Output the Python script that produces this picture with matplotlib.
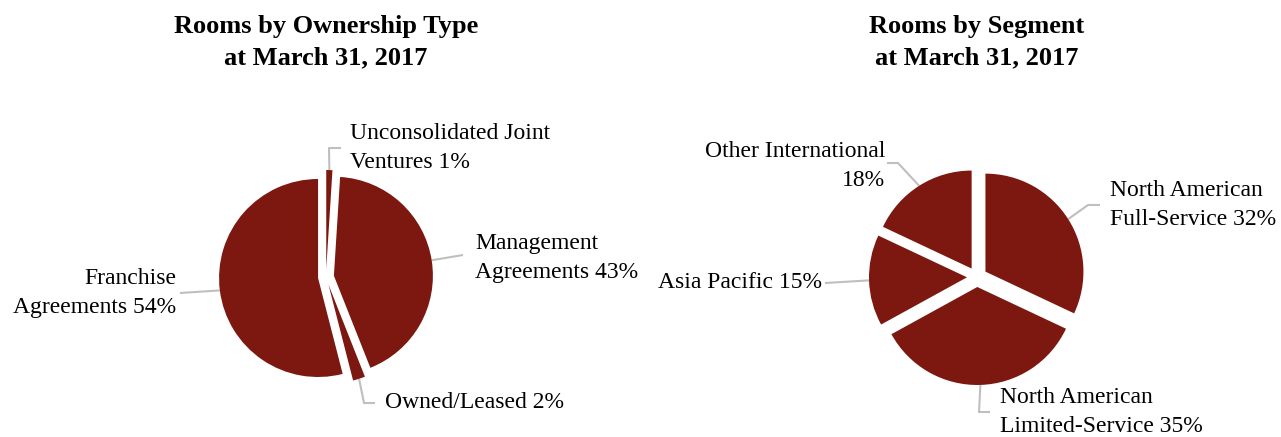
import numpy as np
import matplotlib
matplotlib.use('Agg')
import matplotlib.pyplot as plt

W, H = 1281, 437
RED = '#7C1810'
GREY = '#BFBFBF'
plt.rcParams['font.family'] = ['Liberation Serif', 'DejaVu Serif']

# Rooms by ownership type (clockwise from 12 o'clock)
own_labels = ['Unconsolidated Joint\nVentures 1%', 'Management\nAgreements 43%',
              'Owned/Leased 2%', 'Franchise\nAgreements 54%']
own_values = [1, 43, 2, 54]

# Rooms by segment (clockwise from 12 o'clock)
seg_labels = ['North American\nFull-Service 32%', 'North American\nLimited-Service 35%',
              'Asia Pacific 15%', 'Other International\n18%']
seg_values = [32, 35, 15, 18]

fig = plt.figure(figsize=(W / 100, H / 100), dpi=100)
ax = fig.add_axes([0, 0, 1, 1])


def py(y):
    # pixel row (from top) -> data y
    return H - y


def anchor(w):
    mid = np.deg2rad((w.theta1 + w.theta2) / 2)
    return w.center[0] + w.r * np.cos(mid), w.center[1] + w.r * np.sin(mid)


def draw_pie(values, labels, cx, cy, r, expl, title, layout):
    wedges, _ = ax.pie(values, explode=[expl] * len(values), radius=r,
                       center=(cx, py(cy)), startangle=90, counterclock=False,
                       colors=[RED] * len(values), wedgeprops=dict(linewidth=0))
    ax.text(cx, py(42), title, ha='center', va='center', fontsize=19,
            fontweight='bold', linespacing=1.43)
    for w, lab, (elbows, tx, ty, ha) in zip(wedges, labels, layout):
        ax0, ay0 = anchor(w)
        xs = [ax0] + [e[0] for e in elbows]
        ys = [ay0] + [py(e[1]) for e in elbows]
        ax.plot(xs, ys, color=GREY, lw=1.5, solid_capstyle='butt', zorder=0)
        ax.text(tx, py(ty), lab, ha=ha, va='center', fontsize=17,
                linespacing=1.56, multialignment=ha)


own_layout = [
    ([(329, 148), (341, 148)], 350, 148, 'left'),
    ([(463, 255)], 475, 258, 'left'),
    ([(364, 403), (375, 403)], 385, 403, 'left'),
    ([(180, 293)], 176, 293, 'right'),
]
seg_layout = [
    ([(1088, 205), (1100, 205)], 1110, 205, 'left'),
    ([(979, 412), (990, 412)], 1000, 412, 'left'),
    ([(825, 283)], 822, 283, 'right'),
    ([(898, 163), (887, 163)], 885, 166, 'right'),
]

draw_pie(own_values, own_labels, 326, 277, 99, 8,
         'Rooms by Ownership Type\nat March 31, 2017', own_layout)
draw_pie(seg_values, seg_labels, 977, 277, 98, 10,
         'Rooms by Segment\nat March 31, 2017', seg_layout)

ax.set_xlim(0, W)
ax.set_ylim(0, H)
ax.set_aspect('equal')
ax.axis('off')

fig.savefig('out.png', dpi=100)
